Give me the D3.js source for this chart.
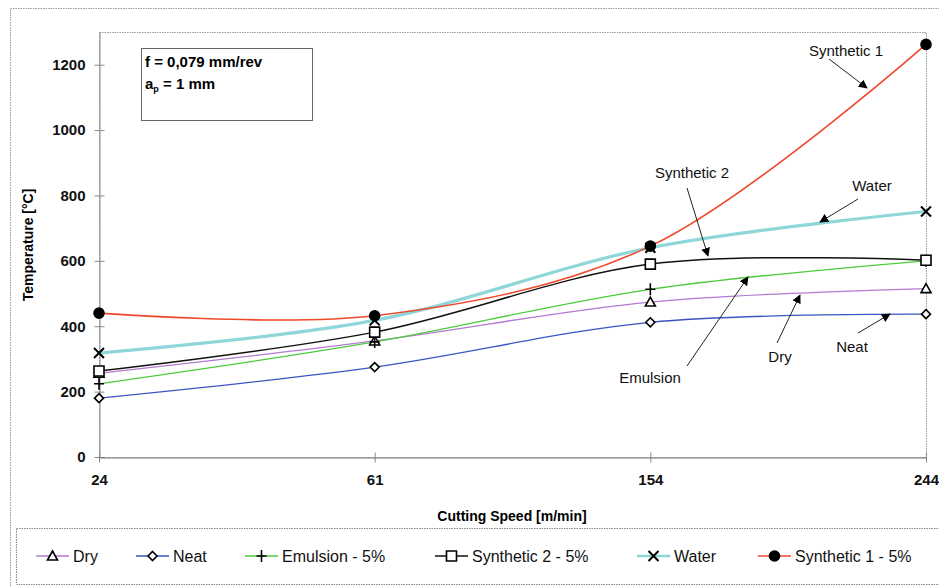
<!DOCTYPE html>
<html>
<head>
<meta charset="utf-8">
<script src="https://cdn.jsdelivr.net/npm/d3@7"></script>
<style>
  body { margin: 0; background: #fff; }
  text { font-family: "Liberation Sans", Arial, sans-serif; }
</style>
</head>
<body>
<div id="chart"></div>
<script>
var w = 939, h = 586;

// data
var speeds = ["24", "61", "154", "244"];
var dry = [256, 355, 474, 515];
var neat = [180, 275, 412, 437];
var emulsion = [224, 352, 513, 600];
var synthetic2 = [263, 382, 590, 602];
var water = [318, 418, 640, 751];
var synthetic1 = [440, 432, 645, 1262];
var yTicks = [0, 200, 400, 600, 800, 1000, 1200];

// marker shapes (plain paths, centred on 0,0)
var shapes = {
  triangle: "M0,-5L5,4L-5,4Z",
  diamond: "M0,-4.5L4.5,0L0,4.5L-4.5,0Z",
  plus: "M-5,0L5,0M0,-6L0,6",
  square: "M-5,-5L5,-5L5,5L-5,5Z",
  times: "M-5,-5L5,5M5,-5L-5,5",
  circle: "M5,0A5,5 0 1,1 -5,0A5,5 0 1,1 5,0Z"
};

var series = [
  {name: "Dry", legend: "Dry", vals: dry, color: "#b27ad0", shape: "triangle", fill: "#fff", width: 1.3},
  {name: "Neat", legend: "Neat", vals: neat, color: "#3b55c4", shape: "diamond", fill: "#fff", width: 1.3},
  {name: "Emulsion", legend: "Emulsion - 5%", vals: emulsion, color: "#4ccc3a", shape: "plus", fill: "none", width: 1.3},
  {name: "Synthetic 2", legend: "Synthetic 2 - 5%", vals: synthetic2, color: "#111", shape: "square", fill: "#fff", width: 1.5},
  {name: "Water", legend: "Water", vals: water, color: "#8fd6d8", shape: "times", fill: "none", width: 3.2},
  {name: "Synthetic 1", legend: "Synthetic 1 - 5%", vals: synthetic1, color: "#f0482a", shape: "circle", fill: "#000", width: 1.6}
];

var svg = d3.select("#chart").append("svg")
    .attr("width", w)
    .attr("height", h);

svg.append("defs").append("marker")
    .attr("id", "arr")
    .attr("viewBox", "0 0 10 10")
    .attr("refX", 9).attr("refY", 5)
    .attr("markerWidth", 9).attr("markerHeight", 9)
    .attr("markerUnits", "userSpaceOnUse")
    .attr("orient", "auto")
  .append("path")
    .attr("d", "M0,0L10,5L0,10Z")
    .attr("fill", "#000");

// outer frame
svg.append("rect")
    .attr("x", 10.5).attr("y", 8.5)
    .attr("width", 940).attr("height", 600)
    .attr("fill", "none")
    .attr("stroke", "#999")
    .attr("stroke-dasharray", "1.5,1");

var x = d3.scalePoint()
    .domain(speeds)
    .range([99, 926]);

var y = d3.scaleLinear()
    .domain([0, 1300])
    .range([457, 32]);

// plot frame
svg.append("rect")
    .attr("x", 99.5).attr("y", 32.5)
    .attr("width", 827).attr("height", 425)
    .attr("fill", "none")
    .attr("stroke", "#999")
    .attr("stroke-dasharray", "1.5,1");

// axes
var yAxis = d3.axisLeft(y).tickValues(yTicks).tickFormat(d3.format("d")).tickSize(0).tickPadding(14);
var gy = svg.append("g").attr("transform", "translate(99.5,0)").call(yAxis);
gy.select(".domain").attr("stroke", "#888");
gy.selectAll(".tick text").attr("font-size", 15).attr("font-weight", "bold").attr("fill", "#111")
    .attr("font-family", "'Liberation Sans', Arial, sans-serif");
gy.selectAll(".tick").append("line").attr("x1", -5).attr("x2", 5).attr("stroke", "#888");

var xAxis = d3.axisBottom(x).tickSize(0).tickPadding(17);
var gx = svg.append("g").attr("transform", "translate(0,457.5)").call(xAxis);
gx.select(".domain").attr("stroke", "#777");
gx.selectAll(".tick text").attr("font-size", 15).attr("font-weight", "bold").attr("fill", "#111")
    .attr("font-family", "'Liberation Sans', Arial, sans-serif");
gx.selectAll(".tick").append("line").attr("y1", -5).attr("y2", 5).attr("stroke", "#888");

svg.append("text")
    .attr("transform", "translate(33,245) rotate(-90)")
    .attr("text-anchor", "middle")
    .attr("font-size", 14).attr("font-weight", "bold")
    .text("Temperature [°C]");

svg.append("text")
    .attr("x", 512).attr("y", 521)
    .attr("text-anchor", "middle")
    .attr("font-size", 14).attr("font-weight", "bold")
    .text("Cutting Speed [m/min]");

// lines
var line = d3.line()
    .x(function(d, i) { return x(speeds[i]); })
    .y(function(d) { return y(d); })
    .curve(d3.curveCatmullRom.alpha(0.5));

var order = [4, 1, 0, 2, 3, 5];
order.forEach(function(k) {
  var s = series[k];
  svg.append("path")
      .attr("d", line(s.vals))
      .attr("fill", "none")
      .attr("stroke", s.color)
      .attr("stroke-width", s.width);
});

function drawSym(g, s, cx, cy) {
  g.append("path")
      .attr("transform", "translate(" + cx + "," + cy + ")")
      .attr("d", shapes[s.shape])
      .attr("fill", s.fill)
      .attr("stroke", "#000")
      .attr("stroke-width", s.shape === "times" ? 2 : 1.6);
}

order.forEach(function(k) {
  var s = series[k];
  s.vals.forEach(function(v, i) {
    drawSym(svg, s, x(speeds[i]), y(v));
  });
});

// parameter box
svg.append("rect")
    .attr("x", 141.5).attr("y", 48.5)
    .attr("width", 171).attr("height", 72)
    .attr("fill", "#fff")
    .attr("stroke", "#666");
svg.append("text")
    .attr("x", 145).attr("y", 67)
    .attr("font-size", 15).attr("font-weight", "bold")
    .text("f = 0,079 mm/rev");
var ap = svg.append("text")
    .attr("x", 145).attr("y", 89)
    .attr("font-size", 15).attr("font-weight", "bold");
ap.append("tspan").text("a");
ap.append("tspan").attr("font-size", 9).attr("dy", 3).text("p");
ap.append("tspan").attr("dy", -3).text(" = 1 mm");

// annotations
var notes = [
  {text: "Synthetic 1", tx: 846, ty: 56, x1: 829, y1: 59, x2: 867, y2: 88},
  {text: "Synthetic 2", tx: 692, ty: 178, x1: 687, y1: 188, x2: 708, y2: 256},
  {text: "Water", tx: 872, ty: 191, x1: 858, y1: 199, x2: 820, y2: 222},
  {text: "Emulsion", tx: 650, ty: 383, x1: 687, y1: 366, x2: 748, y2: 277},
  {text: "Dry", tx: 780, ty: 362, x1: 777, y1: 343, x2: 800, y2: 295},
  {text: "Neat", tx: 852, ty: 352, x1: 858, y1: 333, x2: 890, y2: 314}
];
notes.forEach(function(n) {
  svg.append("line")
      .attr("x1", n.x1).attr("y1", n.y1)
      .attr("x2", n.x2).attr("y2", n.y2)
      .attr("stroke", "#222").attr("stroke-width", 1)
      .attr("marker-end", "url(#arr)");
  svg.append("text")
      .attr("x", n.tx).attr("y", n.ty)
      .attr("text-anchor", "middle")
      .attr("font-size", 15).attr("fill", "#111")
      .text(n.text);
});

// legend
svg.append("rect")
    .attr("x", 16.5).attr("y", 528.5)
    .attr("width", 930).attr("height", 56)
    .attr("fill", "#fff")
    .attr("stroke", "#888")
    .attr("stroke-dasharray", "1.5,1");

var legendX = [36, 136, 245, 435, 637, 758];
series.forEach(function(s, i) {
  var g = svg.append("g").attr("transform", "translate(" + legendX[i] + ",556)");
  g.append("line").attr("x1", 0).attr("x2", 33)
      .attr("stroke", s.color).attr("stroke-width", s.name === "Water" ? 2.5 : 1.3);
  drawSym(g, s, 16.5, 0);
  g.append("text")
      .attr("x", 37).attr("y", 6)
      .attr("font-size", 16).attr("fill", "#111")
      .text(s.legend);
});
</script>
</body>
</html>
